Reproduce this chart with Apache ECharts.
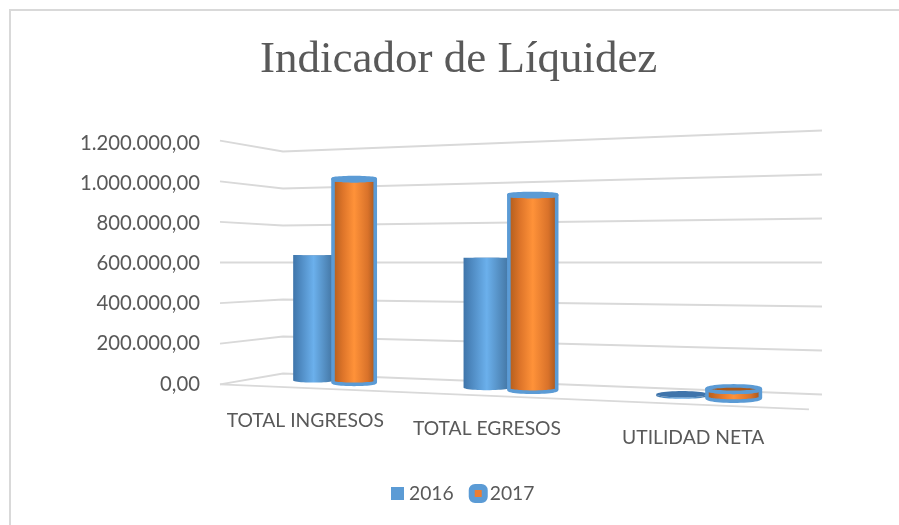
<!DOCTYPE html>
<html><head><meta charset="utf-8">
<style>html,body{margin:0;padding:0;background:#fff}#c{width:899px;height:525px}</style>
<script src="https://cdn.jsdelivr.net/npm/echarts@6/dist/echarts.min.js"></script>
</head><body><div id="c"></div>
<script>
const chartTitle = 'Indicador de Líquidez';
const categories = ['TOTAL INGRESOS', 'TOTAL EGRESOS', 'UTILIDAD NETA'];
const years = ['2016', '2017'];
const values2016 = [638000, 623000, 6000];
const values2017 = [1018000, 919000, 38000];
const valueTicks = [0, 200000, 400000, 600000, 800000, 1000000, 1200000];

const TEXT = '#595959', GRID = '#d9d9d9', EDGE = '#5b9bd5';
const HORIZON = 262.5;          // screen height of the perspective horizon
const chart = echarts.init(document.getElementById('c'));

const fmt = v => {
  const s = String(Math.round(v)).replace(/\B(?=(\d{3})+$)/g, '.');
  return s + ',00';
};
// perspective helpers: flat axis pixel -> projected pixel, scale is px per 200k at that spot
const unitOf = api => api.coord([0, 0])[1] - api.coord([0, 200000])[1];
const midOf = api => api.coord([0, 600000])[1];
const proj = (api, flatY, scale) => HORIZON + (flatY - midOf(api)) * scale / unitOf(api);
const warpX = (cs, u) => 253.9 + 461 * u + 100.1 * u * u;

function gridItem(params, api) {
  const cs = params.coordSys, fy = api.coord([0, api.value(1)])[1];
  const xF = cs.x, xB = cs.x + 63, xR = cs.x + cs.width;
  const wall = x => 37 + 0.013 * (x - xB);
  const pts = [[xF, proj(api, fy, 40.6)], [xB, proj(api, fy, wall(xB))], [xR, proj(api, fy, wall(xR))]];
  const children = [{ type: 'polyline', shape: { points: pts }, style: { stroke: GRID, lineWidth: 1.8, fill: null } }];
  if (api.value(1) === 0) {
    children.push({ type: 'line', shape: { x1: xF, y1: pts[0][1], x2: 809, y2: 409.3 }, style: { stroke: GRID, lineWidth: 1.8 } });
  }
  return { type: 'group', children };
}

function ellipsePts(cx, cy, rx, ry, from, to, n) {
  const out = [];
  for (let i = 0; i <= n; i++) {
    const t = from + (to - from) * i / n;
    out.push([cx + rx * Math.cos(t), cy + ry * Math.sin(t)]);
  }
  return out;
}

function barRenderer(sign, halfW, opts) {
  return function (params, api) {
    const cs = params.coordSys, i = api.value(0), val = api.value(1);
    const uc = (api.coord([i, 0])[0] - cs.x) / cs.width + sign * 0.041;
    const xl = warpX(cs, uc - halfW), xr = warpX(cs, uc + halfW), xm = (xl + xr) / 2, rx = (xr - xl) / 2;
    const scale = 39.9 + 0.0136 * (xm - 354);
    const ty = proj(api, api.coord([i, val])[1], scale);
    const by = proj(api, api.coord([i, 0])[1], scale);
    const k = 0.0178 + 0.00002 * (xm - 354);
    const ryT = Math.abs(ty - HORIZON) * k, ryB = Math.abs(by - HORIZON) * k;
    const body = [].concat(
      ellipsePts(xm, by, rx, ryB, Math.PI, 0, 24),
      ellipsePts(xm, ty, rx, ryT, 0, Math.PI, 24)
    );
    const grad = new echarts.graphic.LinearGradient(0, 0, 1, 0, opts.stops);
    const stroke = opts.stroke ? { stroke: opts.stroke, lineWidth: 3.6, lineJoin: 'round' } : {};
    return {
      type: 'group',
      children: [
        { type: 'polygon', shape: { points: body }, style: Object.assign({ fill: grad }, stroke) },
        { type: 'polygon', shape: { points: ellipsePts(xm, ty, rx, ryT, 0, Math.PI * 2, 48) }, style: Object.assign({ fill: opts.cap }, stroke) }
      ]
    };
  };
}

chart.setOption({
  animation: false,
  backgroundColor: '#fff',
  title: {
    text: chartTitle, left: 255, top: 33,
    textStyle: { fontFamily: 'Liberation Serif', fontSize: 45, fontWeight: 'normal', color: TEXT }
  },
  graphic: [{ type: 'polyline', silent: true, z: -1, shape: { points: [[10, 525], [10, 10], [899, 10]] }, style: { fill: null, stroke: GRID, lineWidth: 2 } }],
  legend: {
    left: 386, top: 479, itemWidth: 13, itemHeight: 13, itemGap: 15,
    textStyle: { fontFamily: 'Lato', fontSize: 19.3, color: TEXT },
    data: [
      { name: years[0], icon: 'rect', itemStyle: { color: EDGE, borderWidth: 0 } },
      { name: years[1], icon: 'roundRect', itemStyle: { color: '#ed7d31', borderColor: EDGE, borderWidth: 6 } }
    ]
  },
  grid: { left: 220, right: 77, top: 143, bottom: 141 },
  xAxis: {
    type: 'category',
    data: [
      { value: categories[0], textStyle: { padding: [27, 30, 0, 0] } },
      { value: categories[1], textStyle: { padding: [35, 68, 0, 0] } },
      { value: categories[2], textStyle: { padding: [44, 57, 0, 0] } }
    ],
    axisLine: { show: false }, axisTick: { show: false },
    axisLabel: { interval: 0, margin: 0, fontFamily: 'Lato', fontSize: 19.3, color: TEXT }
  },
  yAxis: {
    type: 'value', min: 0, max: 1200000, interval: 200000,
    splitLine: { show: false }, axisLine: { show: false }, axisTick: { show: false },
    axisLabel: { margin: 20, padding: [2, 0, 0, 0], fontFamily: 'Lato', fontSize: 20.3, color: TEXT, formatter: fmt }
  },
  series: [
    { type: 'custom', name: 'grid', silent: true, renderItem: gridItem, data: valueTicks.map(v => [0, v]), encode: { x: 0, y: 1 } },
    { type: 'custom', name: years[0], renderItem: barRenderer(-1, 0.042, {
        cap: '#3f74ab',
        stops: [{ offset: 0, color: '#3f75aa' }, { offset: 0.5, color: '#6bb0ec' }, { offset: 1, color: '#41729f' }]
      }), data: values2016.map((v, i) => [i, v]), encode: { x: 0, y: 1 } },
    { type: 'custom', name: years[1], renderItem: barRenderer(1, 0.042, {
        cap: '#a9591c', stroke: EDGE,
        stops: [{ offset: 0, color: '#a9591c' }, { offset: 0.25, color: '#dd7429' }, { offset: 0.5, color: '#ff9239' }, { offset: 0.8, color: '#d9722a' }, { offset: 1, color: '#99521d' }]
      }), data: values2017.map((v, i) => [i, v]), encode: { x: 0, y: 1 } }
  ]
});
</script></body></html>
